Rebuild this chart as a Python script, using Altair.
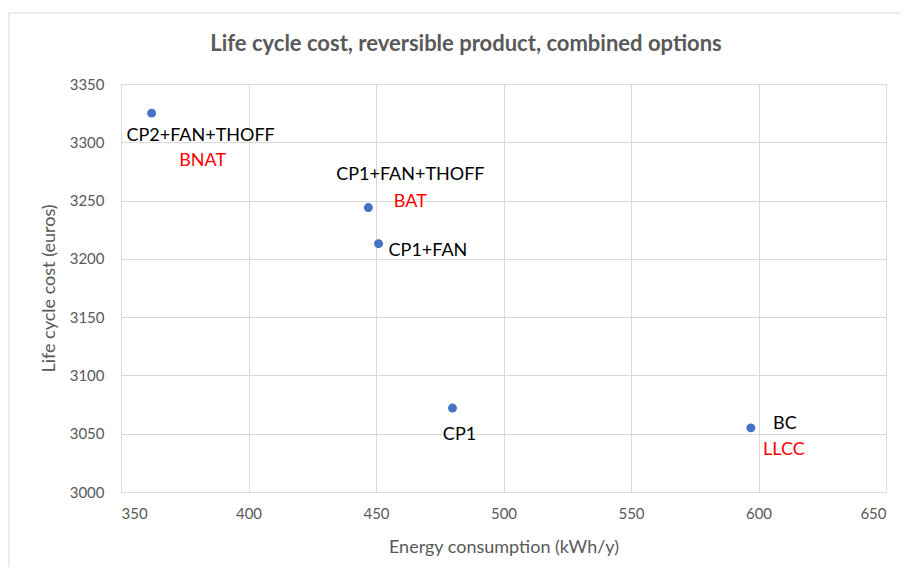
import altair as alt
import pandas as pd

# ---- data ----
names = ["CP2+FAN+THOFF", "CP1+FAN+THOFF", "CP1+FAN", "CP1", "BC"]
energy = [362, 447, 451, 480, 597]
lcc = [3325, 3244, 3213, 3072, 3055]
tags = ["BNAT", "BAT", "", "", "LLCC"]
title_text = "Life cycle cost, reversible product, combined options"

df = pd.DataFrame({"name": names, "energy": energy, "lcc": lcc, "tag": tags})

FONT = "Lato"
GRAY = "#595959"
GRID = "#d9d9d9"

x_enc = alt.X("energy:Q", scale=alt.Scale(domain=[350, 650], nice=False, zero=False),
              axis=alt.Axis(title="Energy consumption (kWh/y)", values=[350, 400, 450, 500, 550, 600, 650],
                            format="d", labelPadding=14, titlePadding=17))
y_enc = alt.Y("lcc:Q", scale=alt.Scale(domain=[3000, 3350], nice=False, zero=False),
              axis=alt.Axis(title="Life cycle cost (euros)", values=list(range(3000, 3351, 50)),
                            format="d", labelPadding=17, titlePadding=11))

base = alt.Chart(df)

points = base.mark_circle(size=80, color="#4472C4", opacity=1).encode(x=x_enc, y=y_enc)

# label placement (styles): name -> (dx, dy, align) for main label, and tag offsets
main_off = {
    "CP2+FAN+THOFF": (49, 23, "center"),
    "CP1+FAN+THOFF": (42, -33, "center"),
    "CP1+FAN": (10, 7, "left"),
    "CP1": (7, 27, "center"),
    "BC": (34, -4, "center"),
}
tag_off = {
    "CP2+FAN+THOFF": (51, 48),
    "CP1+FAN+THOFF": (42, -6),
    "BC": (33, 22),
}

layers = [points]
for n, (dx, dy, al) in main_off.items():
    layers.append(
        base.transform_filter(alt.datum.name == n)
        .mark_text(dx=dx, dy=dy, align=al, baseline="middle", font=FONT, fontSize=18, color="#000000")
        .encode(x=x_enc, y=y_enc, text="name:N")
    )
for n, (dx, dy) in tag_off.items():
    layers.append(
        base.transform_filter(alt.datum.name == n)
        .mark_text(dx=dx, dy=dy, align="center", baseline="middle", font=FONT, fontSize=18, color="#FF0000")
        .encode(x=x_enc, y=y_enc, text="tag:N")
    )

one = pd.DataFrame({"t": [title_text]})
title_mark = alt.Chart(one).mark_text(font=FONT, fontSize=22, fontWeight="bold", color=GRAY,
                                      align="center", baseline="middle").encode(
    x=alt.value(345), y=alt.value(-40), text="t:N")

# outer chart-area border (style only)
border_top = alt.Chart(one).mark_rule(color=GRID, strokeWidth=1).encode(
    x=alt.value(-112), x2=alt.value(900), y=alt.value(-71))
border_left = alt.Chart(one).mark_rule(color=GRID, strokeWidth=1).encode(
    x=alt.value(-112), y=alt.value(-71), y2=alt.value(600))
layers += [title_mark, border_top, border_left]

chart = alt.layer(*layers).properties(
    width=765,
    height=408,
    autosize=alt.AutoSizeParams(type="none"),
    padding={"left": 113, "top": 76, "right": 15, "bottom": 75},
).configure_view(stroke=None).configure(background="white").configure_axis(
    grid=True, gridColor=GRID, domainColor=GRID, ticks=False, tickSize=0,
    labelFontSize=15, titleFontSize=18, labelColor=GRAY, titleColor=GRAY,
    titleFontWeight="normal", labelFont=FONT, titleFont=FONT)

chart.save("out.html", embed_options={"renderer": "svg", "actions": False})
